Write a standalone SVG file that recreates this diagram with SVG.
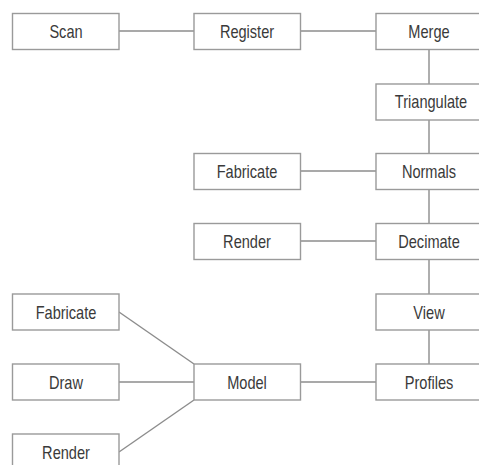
<svg xmlns="http://www.w3.org/2000/svg" width="479" height="465" viewBox="0 0 479 465">
<style>
.box{fill:#fff;stroke:#9a9a9a;stroke-width:1.4}
.lbl{font-family:"Liberation Sans",Arial,sans-serif;font-size:18px;fill:#3a3a3a;text-anchor:middle;dominant-baseline:central}
.conn line{stroke:#8c8c8c;stroke-width:1.4}
</style>
<rect width="479" height="465" fill="#fff"/>
<g id="connectors" class="conn">
<line x1="119" y1="31" x2="194" y2="31"/>
<line x1="300" y1="31" x2="376" y2="31"/>
<line x1="429" y1="49" x2="429" y2="84"/>
<line x1="429" y1="120" x2="429" y2="153"/>
<line x1="300" y1="171" x2="376" y2="171"/>
<line x1="429" y1="189" x2="429" y2="223"/>
<line x1="300" y1="241" x2="376" y2="241"/>
<line x1="429" y1="259" x2="429" y2="294"/>
<line x1="429" y1="330" x2="429" y2="364"/>
<line x1="300" y1="382" x2="376" y2="382"/>
<line x1="119" y1="382" x2="194" y2="382"/>
<line x1="119" y1="312" x2="194" y2="364"/>
<line x1="119" y1="452" x2="194" y2="400"/>
</g>
<g id="scan"><rect class="box" x="12.5" y="13.5" width="106.5" height="36"/><text class="lbl" transform="translate(66,31) scale(0.81,1)">Scan</text></g>
<g id="register"><rect class="box" x="194" y="13.5" width="106.5" height="36"/><text class="lbl" transform="translate(247,31) scale(0.81,1)">Register</text></g>
<g id="merge"><rect class="box" x="376" y="13.5" width="106.5" height="36"/><text class="lbl" transform="translate(429,31) scale(0.81,1)">Merge</text></g>
<g id="triangulate"><rect class="box" x="376" y="84" width="106.5" height="36"/><text class="lbl" transform="translate(431,101.5) scale(0.81,1)">Triangulate</text></g>
<g id="fabricate1"><rect class="box" x="194" y="153.5" width="106.5" height="36"/><text class="lbl" transform="translate(247,171) scale(0.81,1)">Fabricate</text></g>
<g id="normals"><rect class="box" x="376" y="153.5" width="106.5" height="36"/><text class="lbl" transform="translate(429,171) scale(0.81,1)">Normals</text></g>
<g id="render1"><rect class="box" x="194" y="223.5" width="106.5" height="36"/><text class="lbl" transform="translate(247,241) scale(0.81,1)">Render</text></g>
<g id="decimate"><rect class="box" x="376" y="223.5" width="106.5" height="36"/><text class="lbl" transform="translate(429,241) scale(0.81,1)">Decimate</text></g>
<g id="fabricate2"><rect class="box" x="12.5" y="294" width="106.5" height="36"/><text class="lbl" transform="translate(66,312) scale(0.81,1)">Fabricate</text></g>
<g id="view"><rect class="box" x="376" y="294" width="106.5" height="36"/><text class="lbl" transform="translate(429,312) scale(0.81,1)">View</text></g>
<g id="draw"><rect class="box" x="12.5" y="364" width="106.5" height="36"/><text class="lbl" transform="translate(66,382) scale(0.81,1)">Draw</text></g>
<g id="model"><rect class="box" x="194" y="364" width="106.5" height="36"/><text class="lbl" transform="translate(247,382) scale(0.81,1)">Model</text></g>
<g id="profiles"><rect class="box" x="376" y="364" width="106.5" height="36"/><text class="lbl" transform="translate(429,382) scale(0.81,1)">Profiles</text></g>
<g id="render2"><rect class="box" x="12.5" y="434" width="106.5" height="36"/><text class="lbl" transform="translate(66,452) scale(0.81,1)">Render</text></g>
</svg>
